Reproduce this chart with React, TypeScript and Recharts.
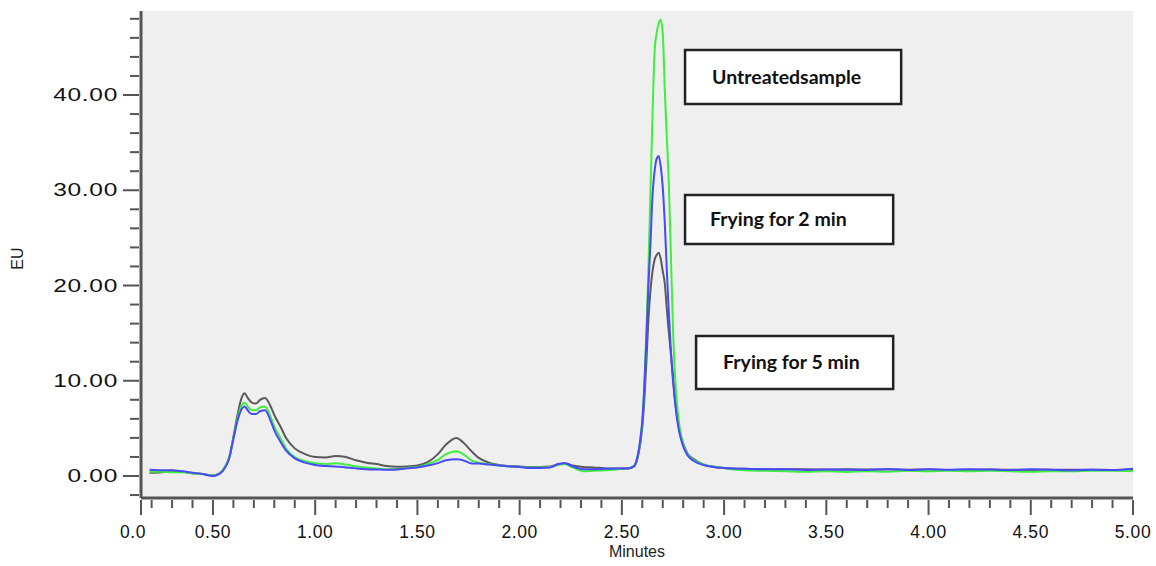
import { LineChart, Line, XAxis, YAxis, CartesianGrid, ReferenceArea } from 'recharts';

// retention time (min)
const minutes = [
  0.19, 0.25, 0.3, 0.35, 0.4, 0.45, 0.5, 0.53, 0.56, 0.58,
  0.6, 0.62, 0.64, 0.655, 0.67, 0.69, 0.71, 0.73, 0.755, 0.78,
  0.8, 0.83, 0.86, 0.9, 0.95, 1.0, 1.05, 1.1, 1.15, 1.2,
  1.25, 1.3, 1.35, 1.4, 1.45, 1.5, 1.55, 1.6, 1.64, 1.69,
  1.73, 1.76, 1.8, 1.85, 1.9, 1.95, 2.0, 2.05, 2.1, 2.15,
  2.19, 2.22, 2.26, 2.31, 2.36, 2.42, 2.48, 2.53, 2.56, 2.57,
  2.58, 2.59, 2.6, 2.61, 2.62, 2.63, 2.64, 2.65, 2.66, 2.67,
  2.68, 2.69, 2.7, 2.71, 2.72, 2.73, 2.74, 2.75, 2.76, 2.77,
  2.78, 2.79, 2.8, 2.82, 2.85, 2.9, 2.95, 3.0, 3.1, 3.2,
  3.3, 3.4, 3.5, 3.6, 3.7, 3.8, 3.9, 4.0, 4.1, 4.2,
  4.3, 4.4, 4.5, 4.6, 4.7, 4.8, 4.9, 5.0,
];

// green trace
const untreated = [
  0.45, 0.45, 0.4, 0.4, 0.3, 0.2, 0.05, 0.25, 1.0, 2.0,
  4.0, 6.0, 7.4, 7.7, 7.3, 6.9, 6.9, 7.2, 7.3, 6.3,
  5.2, 4.0, 2.8, 2.0, 1.55, 1.33, 1.25, 1.33, 1.2, 1.0,
  0.9, 0.8, 0.7, 0.72, 0.85, 0.95, 1.25, 1.7, 2.3, 2.6,
  2.2, 1.7, 1.4, 1.25, 1.1, 1.0, 0.95, 0.9, 0.9, 0.95,
  1.15, 1.25, 0.9, 0.5, 0.55, 0.6, 0.7, 0.8, 1.05, 1.5,
  2.4, 3.8, 5.8, 9.5, 15.0, 22.0, 30.0, 38.0, 44.5, 46.5,
  47.5, 47.9, 46.5, 40.5, 35.5, 30.5, 23.0, 15.5, 10.5, 7.5,
  5.5, 4.2, 3.3, 2.3, 1.7, 1.2, 1.0, 0.8, 0.6, 0.55,
  0.5, 0.45, 0.5, 0.42, 0.5, 0.45, 0.55, 0.5, 0.55, 0.5,
  0.55, 0.5, 0.45, 0.5, 0.5, 0.55, 0.55, 0.5,
];

// blue trace
const fry2 = [
  0.65, 0.6, 0.6, 0.5, 0.35, 0.2, 0.0, 0.2, 0.9, 1.9,
  3.9, 5.8, 7.0, 7.3, 6.9, 6.5, 6.5, 6.8, 6.9, 5.9,
  4.8, 3.6, 2.6, 1.85, 1.4, 1.15, 1.05, 1.0, 0.9, 0.8,
  0.72, 0.68, 0.65, 0.68, 0.8, 0.9, 1.1, 1.35, 1.65, 1.75,
  1.6, 1.35, 1.3, 1.2, 1.1, 1.0, 0.95, 0.85, 0.85, 0.9,
  1.25, 1.35, 1.0, 0.7, 0.7, 0.75, 0.78, 0.8, 1.05, 1.5,
  2.4, 3.8, 5.8, 9.5, 14.5, 20.0, 24.5, 29.5, 32.0, 33.3,
  33.6, 32.5, 30.3, 26.5, 21.5, 17.0, 13.0, 10.0, 7.8, 6.0,
  4.7, 3.8, 3.1, 2.2, 1.6, 1.15, 0.95, 0.85, 0.75, 0.7,
  0.72, 0.62, 0.68, 0.66, 0.64, 0.72, 0.62, 0.7, 0.66, 0.72,
  0.68, 0.62, 0.7, 0.66, 0.6, 0.66, 0.62, 0.75,
];

// dark grey trace
const fry5 = [
  0.35, 0.4, 0.55, 0.45, 0.3, 0.2, 0.05, 0.25, 1.0, 2.0,
  4.1, 6.4, 8.2, 8.7, 8.2, 7.7, 7.6, 8.0, 8.2, 7.4,
  6.4, 5.2, 3.9, 2.9, 2.3, 2.0, 1.95, 2.1, 2.0, 1.65,
  1.4, 1.25, 1.05, 0.98, 1.0, 1.1, 1.45, 2.3, 3.3, 4.0,
  3.4, 2.7, 1.9, 1.4, 1.15, 1.05, 1.0, 0.95, 0.95, 1.0,
  1.25, 1.35, 1.1, 0.95, 0.9, 0.8, 0.78, 0.8, 1.0, 1.4,
  2.2, 3.4, 5.2, 8.0, 12.0, 16.5, 19.5, 21.5, 22.7, 23.2,
  23.45, 22.8, 21.5, 20.2, 17.5, 15.0, 12.8, 10.5, 8.0, 6.2,
  5.0, 4.1, 3.4, 2.4, 1.8, 1.2, 0.95, 0.85, 0.75, 0.72,
  0.7, 0.7, 0.68, 0.7, 0.68, 0.7, 0.66, 0.68, 0.64, 0.66,
  0.68, 0.66, 0.64, 0.66, 0.65, 0.66, 0.64, 0.66,
];

const xStart = 0.148;
const xMajorTicks = [xStart, 0.5, 1, 1.5, 2, 2.5, 3, 3.5, 4, 4.5, 5];
const xTickLabels = ['0.0', '0.50', '1.00', '1.50', '2.00', '2.50', '3.00', '3.50', '4.00', '4.50', '5.00'];
const xTicks = [xStart, ...Array.from({ length: 49 }, (_, i) => +(0.2 + i * 0.1).toFixed(1))];

const yMajorTicks = [0, 10, 20, 30, 40];
const yTickLabels = ['0.00', '10.00', '20.00', '30.00', '40.00'];
const yTicks = Array.from({ length: 26 }, (_, i) => -2 + i * 2);

const notes = [
  { text: 'Untreatedsample', x1: 2.809, x2: 3.866, y1: 39.06, y2: 44.72, pad: 27 },
  { text: 'Frying for 2 min', x1: 2.809, x2: 3.827, y1: 24.36, y2: 29.5, pad: 25 },
  { text: 'Frying for 5 min', x1: 2.863, x2: 3.827, y1: 9.13, y2: 14.7, pad: 27 },
];

const data = minutes.map((t, i) => ({
  t,
  untreated: untreated[i],
  fry2: fry2[i],
  fry5: fry5[i],
}));

const axisFont = '"Liberation Sans", Arial, sans-serif';

function XTick(props: any) {
  const { x, y, payload } = props;
  const idx = xMajorTicks.findIndex(v => Math.abs(v - payload.value) < 0.001);
  const major = idx >= 0;
  return (
    <g>
      <line x1={x} x2={x} y1={y} y2={y + (major ? 15 : 8)} stroke="#555" strokeWidth={2} />
      {major && (
        <text
          x={idx === 0 ? x - 8 : x}
          y={y + 38}
          textAnchor="middle"
          fontSize={17.5}
          letterSpacing={0.6}
          fontFamily={axisFont}
          fill="#111"
        >
          {xTickLabels[idx]}
        </text>
      )}
    </g>
  );
}

function YTick(props: any) {
  const { x, y, payload } = props;
  const idx = yMajorTicks.indexOf(payload.value);
  const major = idx >= 0;
  return (
    <g>
      <line x1={x - (major ? 16 : 9)} x2={x} y1={y} y2={y} stroke="#555" strokeWidth={2} />
      {major && (
        <text
          transform={`translate(${x - 21} ${y + 6}) scale(1.4 1)`}
          textAnchor="end"
          fontSize={17.5}
          letterSpacing={0.5}
          fontFamily={axisFont}
          fill="#111"
        >
          {yTickLabels[idx]}
        </text>
      )}
    </g>
  );
}

export default function App() {
  return (
    <div style={{ position: 'absolute', left: 0, top: 0, width: 1156, height: 566, background: '#fff' }}>
      <LineChart width={1156} height={566} data={data} margin={{ top: 11, right: 23, bottom: 0, left: 0 }}>
        <CartesianGrid horizontal={false} vertical={false} fill="#efefef" />
        <XAxis
          dataKey="t"
          type="number"
          domain={[xStart, 5]}
          ticks={xTicks}
          interval={0}
          allowDataOverflow
          height={68}
          tickSize={0}
          tickLine={false}
          tick={XTick}
          axisLine={{ stroke: '#555', strokeWidth: 3 }}
          label={{ value: 'Minutes', position: 'insideBottom', offset: 9, fontSize: 16, fontFamily: axisFont, fill: '#222' }}
        />
        <XAxis
          xAxisId="top"
          orientation="top"
          type="number"
          domain={[xStart, 5]}
          height={0}
          tick={false}
          tickLine={false}
          axisLine={{ stroke: '#333', strokeWidth: 2 }}
        />
        <YAxis
          type="number"
          domain={[-2.31, 48.82]}
          ticks={yTicks}
          interval={0}
          allowDataOverflow
          width={141}
          tickSize={0}
          tickLine={false}
          tick={YTick}
          axisLine={{ stroke: '#555', strokeWidth: 3 }}
          label={({ viewBox }: any) => (
            <text
              x={viewBox.x + 23}
              y={viewBox.y + viewBox.height / 2 + 4}
              transform={`rotate(-90 ${viewBox.x + 23} ${viewBox.y + viewBox.height / 2 + 4})`}
              textAnchor="middle"
              fontSize={16}
              fontFamily={axisFont}
              fill="#222"
            >
              EU
            </text>
          )}
        />
        <YAxis
          yAxisId="right"
          orientation="right"
          width={0}
          tick={false}
          tickLine={false}
          axisLine={{ stroke: '#555', strokeWidth: 3 }}
        />
        {notes.map(n => (
          <ReferenceArea
            key={n.text}
            x1={n.x1}
            x2={n.x2}
            y1={n.y1}
            y2={n.y2}
            fill="#fff"
            fillOpacity={1}
            stroke="#222"
            strokeWidth={2.5}
            label={{
              value: n.text,
              position: 'insideLeft',
              offset: n.pad,
              fontSize: 19.5,
              fontWeight: 700,
              fontFamily: 'Lato, sans-serif',
              fill: '#111',
            }}
          />
        ))}
        <Line type="monotone" dataKey="fry5" stroke="#5a5a5a" strokeWidth={2} dot={false} isAnimationActive={false} />
        <Line type="monotone" dataKey="untreated" stroke="#3cf03c" strokeWidth={2} dot={false} isAnimationActive={false} />
        <Line type="monotone" dataKey="fry2" stroke="#4848ff" strokeWidth={2} dot={false} isAnimationActive={false} />
      </LineChart>
    </div>
  );
}
